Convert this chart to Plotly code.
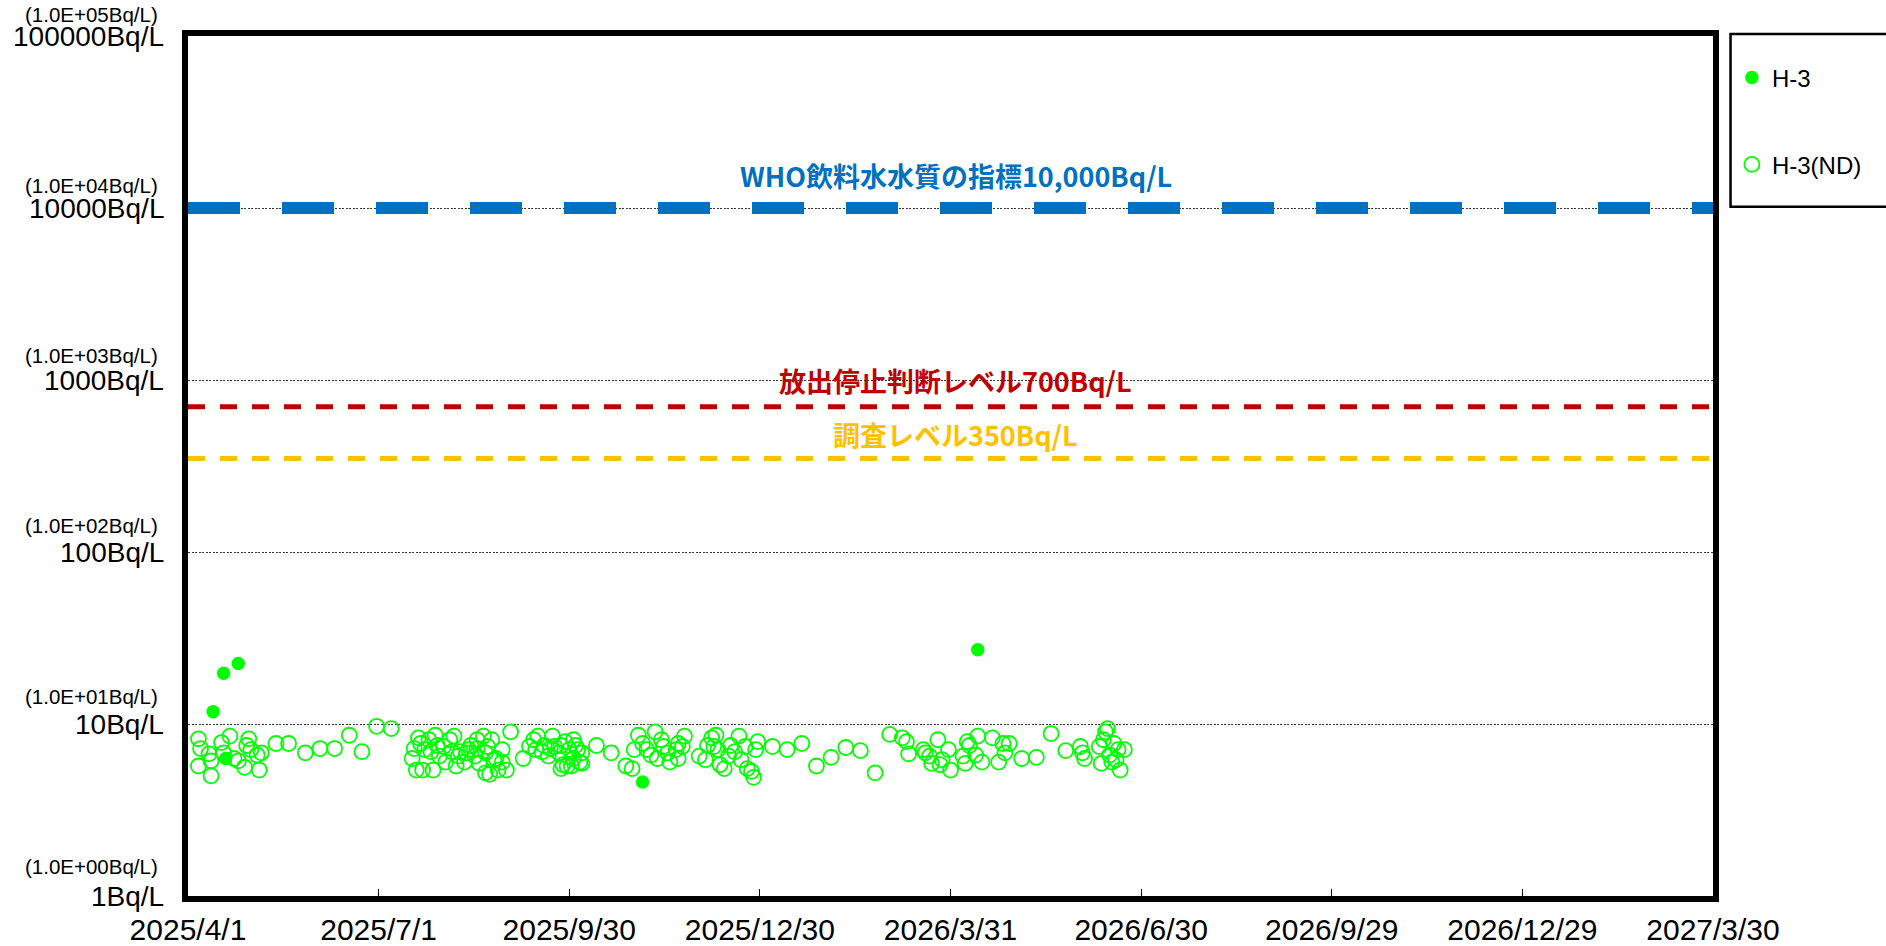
import math
import plotly.graph_objects as go

# ---------------- data ----------------
# H-3 detected values (Bq/L)
det_dates = ["2025-04-13", "2025-04-18", "2025-04-25", "2025-04-19", "2025-11-04", "2026-04-13"]
det_values = [11.8, 19.7, 22.5, 6.3, 4.6, 27.0]

# H-3 not detected (detection limit, Bq/L)
nd_dates = [
    "2025-04-06", "2025-04-07", "2025-04-06", "2025-04-11", "2025-04-12", "2025-04-12", "2025-04-17",
    "2025-04-21", "2025-04-18", "2025-04-23", "2025-04-25", "2025-04-28", "2025-04-30", "2025-04-29",
    "2025-05-01", "2025-05-04", "2025-05-05", "2025-05-06", "2025-05-13", "2025-05-19", "2025-05-27",
    "2025-06-03", "2025-06-10", "2025-06-17", "2025-06-23", "2025-06-30", "2025-07-07",
    "2025-07-17", "2025-07-18", "2025-07-19", "2025-07-20", "2025-07-21", "2025-07-22", "2025-07-23",
    "2025-07-25", "2025-07-26", "2025-07-27", "2025-07-28", "2025-07-29", "2025-07-30", "2025-08-01",
    "2025-08-02", "2025-08-04", "2025-08-05", "2025-08-06", "2025-08-07", "2025-08-08", "2025-08-09",
    "2025-08-11", "2025-08-12", "2025-08-13", "2025-08-14", "2025-08-16", "2025-08-17", "2025-08-17",
    "2025-08-18", "2025-08-20", "2025-08-21", "2025-08-21", "2025-08-22", "2025-08-23", "2025-08-24",
    "2025-08-25", "2025-08-26", "2025-08-27", "2025-08-29", "2025-08-29", "2025-08-31", "2025-09-02",
    "2025-09-08", "2025-09-11", "2025-09-13", "2025-09-14", "2025-09-15", "2025-09-17", "2025-09-18",
    "2025-09-20", "2025-09-21", "2025-09-22", "2025-09-23", "2025-09-25", "2025-09-26", "2025-09-26",
    "2025-09-28", "2025-09-29", "2025-09-30", "2025-10-02", "2025-10-02", "2025-10-03", "2025-10-05",
    "2025-10-06", "2025-09-27", "2025-10-01", "2025-10-06", "2025-10-04", "2025-10-13", "2025-10-20",
    "2025-10-27", "2025-10-30", "2025-10-31", "2025-11-02", "2025-11-04", "2025-11-06", "2025-11-08",
    "2025-11-10", "2025-11-11", "2025-11-13", "2025-11-14", "2025-11-16", "2025-11-17", "2025-11-20",
    "2025-11-21", "2025-11-21", "2025-11-24", "2025-11-23", "2025-12-01", "2025-12-05", "2025-12-04",
    "2025-12-07", "2025-12-08", "2025-12-09", "2025-12-10", "2025-12-11", "2025-12-13", "2025-12-15",
    "2025-12-16", "2025-12-18", "2025-12-20", "2025-12-21", "2025-12-23", "2025-12-24", "2025-12-26",
    "2025-12-27", "2025-12-29", "2025-12-28", "2026-01-05", "2026-01-12", "2026-01-19", "2026-01-26",
    "2026-02-02", "2026-02-09", "2026-02-16", "2026-02-23", "2026-03-02",
    "2026-03-08", "2026-03-10", "2026-03-11", "2026-03-18", "2026-03-19", "2026-03-21", "2026-03-22",
    "2026-03-25", "2026-03-26", "2026-03-27", "2026-03-30", "2026-03-31", "2026-04-06", "2026-04-07",
    "2026-04-08", "2026-04-09", "2026-04-12", "2026-04-13", "2026-04-15", "2026-04-20", "2026-04-23",
    "2026-04-25", "2026-04-26", "2026-04-28", "2026-05-04", "2026-05-11", "2026-05-18", "2026-05-25",
    "2026-06-01", "2026-06-02", "2026-06-03", "2026-06-10", "2026-06-11", "2026-06-12", "2026-06-13",
    "2026-06-14", "2026-06-15", "2026-06-16", "2026-06-18", "2026-06-17", "2026-06-19", "2026-06-20",
    "2026-06-22",
]
nd_values = [
    8.2, 7.2, 5.7, 6.7, 6.1, 5.0, 7.8,
    8.5, 6.8, 6.3, 6.1, 5.6, 8.2, 7.5,
    7.1, 6.6, 5.4, 6.8, 7.7, 7.7, 6.8,
    7.2, 7.2, 8.6, 6.9, 9.7, 9.4,
    6.3, 7.2, 5.4, 8.3, 7.7, 5.4, 7.1,
    8.1, 6.9, 5.4, 8.6, 7.5, 6.5, 7.4,
    6.0, 8.1, 6.9, 8.5, 5.7, 6.5, 6.9,
    6.0, 6.8, 7.1, 7.5, 6.5, 8.1, 7.2,
    5.9, 8.5, 6.8, 5.2, 7.4, 5.1, 8.1,
    6.2, 6.3, 5.4, 7.1, 6.0, 5.4, 9.0,
    6.3, 7.4, 8.1, 7.1, 8.5, 6.9, 7.5,
    6.5, 7.2, 8.5, 7.4, 6.8, 7.5, 5.5,
    7.9, 5.7, 7.1, 6.3, 8.1, 7.5, 6.0,
    6.8, 5.8, 5.7, 5.9, 7.1, 7.5, 6.8,
    5.7, 5.5, 7.1, 8.6, 7.7, 7.1, 6.6,
    9.0, 6.3, 8.1, 7.4, 6.8, 6.0, 7.1,
    7.7, 6.3, 8.5, 7.4, 6.5, 7.5, 6.2,
    8.3, 7.4, 8.6, 7.1, 5.8, 5.5, 6.5,
    7.5, 6.9, 8.5, 6.2, 7.4, 5.5, 5.3,
    4.9, 7.9, 7.1, 7.4, 7.1, 7.7, 5.7,
    6.4, 7.3, 7.0, 5.2, 8.7,
    8.3, 7.9, 6.7, 7.1, 6.8, 6.5, 5.9,
    8.1, 5.8, 6.2, 7.1, 5.4, 6.5, 5.9,
    7.9, 7.5, 6.6, 8.5, 6.0, 8.3, 6.0,
    7.7, 6.8, 7.7, 6.3, 6.4, 8.8, 7.0,
    7.4, 6.8, 6.3, 7.4, 5.9, 8.1, 9.0,
    9.4, 6.6, 6.0, 6.2, 7.7, 7.1, 5.4,
    7.1,
]

x_tickvals = ["2025-04-01", "2025-07-01", "2025-09-30", "2025-12-30", "2026-03-31",
              "2026-06-30", "2026-09-29", "2026-12-29", "2027-03-30"]
x_ticktext = ["2025/4/1", "2025/7/1", "2025/9/30", "2025/12/30", "2026/3/31",
              "2026/6/30", "2026/9/29", "2026/12/29", "2027/3/30"]

y_tickvals = [1, 10, 100, 1000, 10000, 100000]
y_ticktext = ["1Bq/L", "10Bq/L", "100Bq/L", "1000Bq/L", "10000Bq/L", "100000Bq/L"]
y_subtext = ["(1.0E+00Bq/L)", "(1.0E+01Bq/L)", "(1.0E+02Bq/L)",
             "(1.0E+03Bq/L)", "(1.0E+04Bq/L)", "(1.0E+05Bq/L)"]

ref_levels = [10000, 700, 350]
ref_labels = ["WHO飲料水水質の指標10,000Bq/L", "放出停止判断レベル700Bq/L", "調査レベル350Bq/L"]
ref_colors = ["#0070C0", "#C00000", "#FFC000"]

# ---------------- style ----------------
ref_widths = [12, 5, 5]
ref_dashes = ["52px,42px", "17px,15px", "17px,15px"]
ref_label_y = [0.8374, 0.5995, 0.5366]
sub_yshift = [30, 27.6, 26.2, 24.2, 22.8, 21.6]

x_start, x_end = x_tickvals[0], x_tickvals[-1]

GREEN = "#00FF00"
TICKFONT = "Liberation Sans, Arial, sans-serif"
JPFONT = "Noto Sans CJK JP, sans-serif"

fig = go.Figure()

# reference lines
for lvl, col, w, d in zip(ref_levels, ref_colors, ref_widths, ref_dashes):
    fig.add_trace(go.Scatter(
        x=[x_start, x_end], y=[lvl, lvl], mode="lines",
        line=dict(color=col, width=w, dash=d),
        showlegend=False, hoverinfo="skip", cliponaxis=False,
    ))

fig.add_trace(go.Scatter(
    x=nd_dates, y=nd_values, mode="markers", name="H-3(ND)",
    marker=dict(symbol="circle-open", size=15, color=GREEN, line=dict(width=1.8, color=GREEN)),
    legend="legend2",
))
fig.add_trace(go.Scatter(
    x=det_dates, y=det_values, mode="markers", name="H-3",
    marker=dict(symbol="circle", size=13.5, color=GREEN),
    legend="legend",
))

annotations = []
for lab, col, ly in zip(ref_labels, ref_colors, ref_label_y):
    annotations.append(dict(
        text="<b>" + lab + "</b>", xref="paper", yref="paper", x=0.5033, y=ly,
        xanchor="center", yanchor="middle", showarrow=False,
        font=dict(family=JPFONT, size=27, color=col),
    ))
for v, big, st, ys in zip(y_tickvals, y_ticktext, y_subtext, sub_yshift):
    annotations.append(dict(
        text=big, xref="paper", yref="y", x=-0.0144, y=math.log10(v),
        xanchor="right", yanchor="middle", yshift=0, showarrow=False,
        font=dict(family=TICKFONT, size=28, color="black"),
    ))
    annotations.append(dict(
        text=st, xref="paper", yref="y", x=-0.0183, y=math.log10(v),
        xanchor="right", yanchor="middle", yshift=ys, showarrow=False,
        font=dict(family=TICKFONT, size=20.5, color="black"),
    ))

fig.update_layout(
    width=1886, height=946,
    margin=dict(l=188, r=173, t=36, b=50, autoexpand=False),
    paper_bgcolor="white", plot_bgcolor="white",
    xaxis=dict(
        type="date", range=[x_start, x_end],
        tickmode="array", tickvals=x_tickvals, ticktext=x_ticktext,
        ticks="inside", ticklen=7, tickwidth=1, tickcolor="black",
        showgrid=False, zeroline=False,
        showline=True, linecolor="black", linewidth=6, mirror=True,
        tickfont=dict(family=TICKFONT, size=30, color="black"),
        ticklabelstandoff=2, automargin=False,
    ),
    yaxis=dict(
        type="log", range=[0, 5],
        tickmode="array", tickvals=y_tickvals, showticklabels=False,
        ticks="", showgrid=True, gridcolor="#333333", gridwidth=1, griddash="2px,1.5px",
        zeroline=False,
        showline=True, linecolor="black", linewidth=6, mirror=True,
        automargin=False,
    ),
    showlegend=True,
    legend=dict(x=1.0124, y=0.9512, xanchor="left", yanchor="middle",
                bgcolor="rgba(0,0,0,0)", borderwidth=0,
                font=dict(family=TICKFONT, size=24, color="black")),
    legend2=dict(x=1.0124, y=0.8502, xanchor="left", yanchor="middle",
                 bgcolor="rgba(0,0,0,0)", borderwidth=0,
                 font=dict(family=TICKFONT, size=24, color="black")),
    annotations=annotations,
    shapes=[dict(type="rect", xref="paper", yref="paper", x0=1.0115, x1=1.13,
                 y0=0.8014, y1=1.0023, line=dict(color="black", width=2.5),
                 fillcolor="rgba(0,0,0,0)", layer="below")],
)

fig.write_html("out.html", config={"displayModeBar": False},
               post_script="document.body.style.margin='0px';document.body.style.overflow='hidden';")
